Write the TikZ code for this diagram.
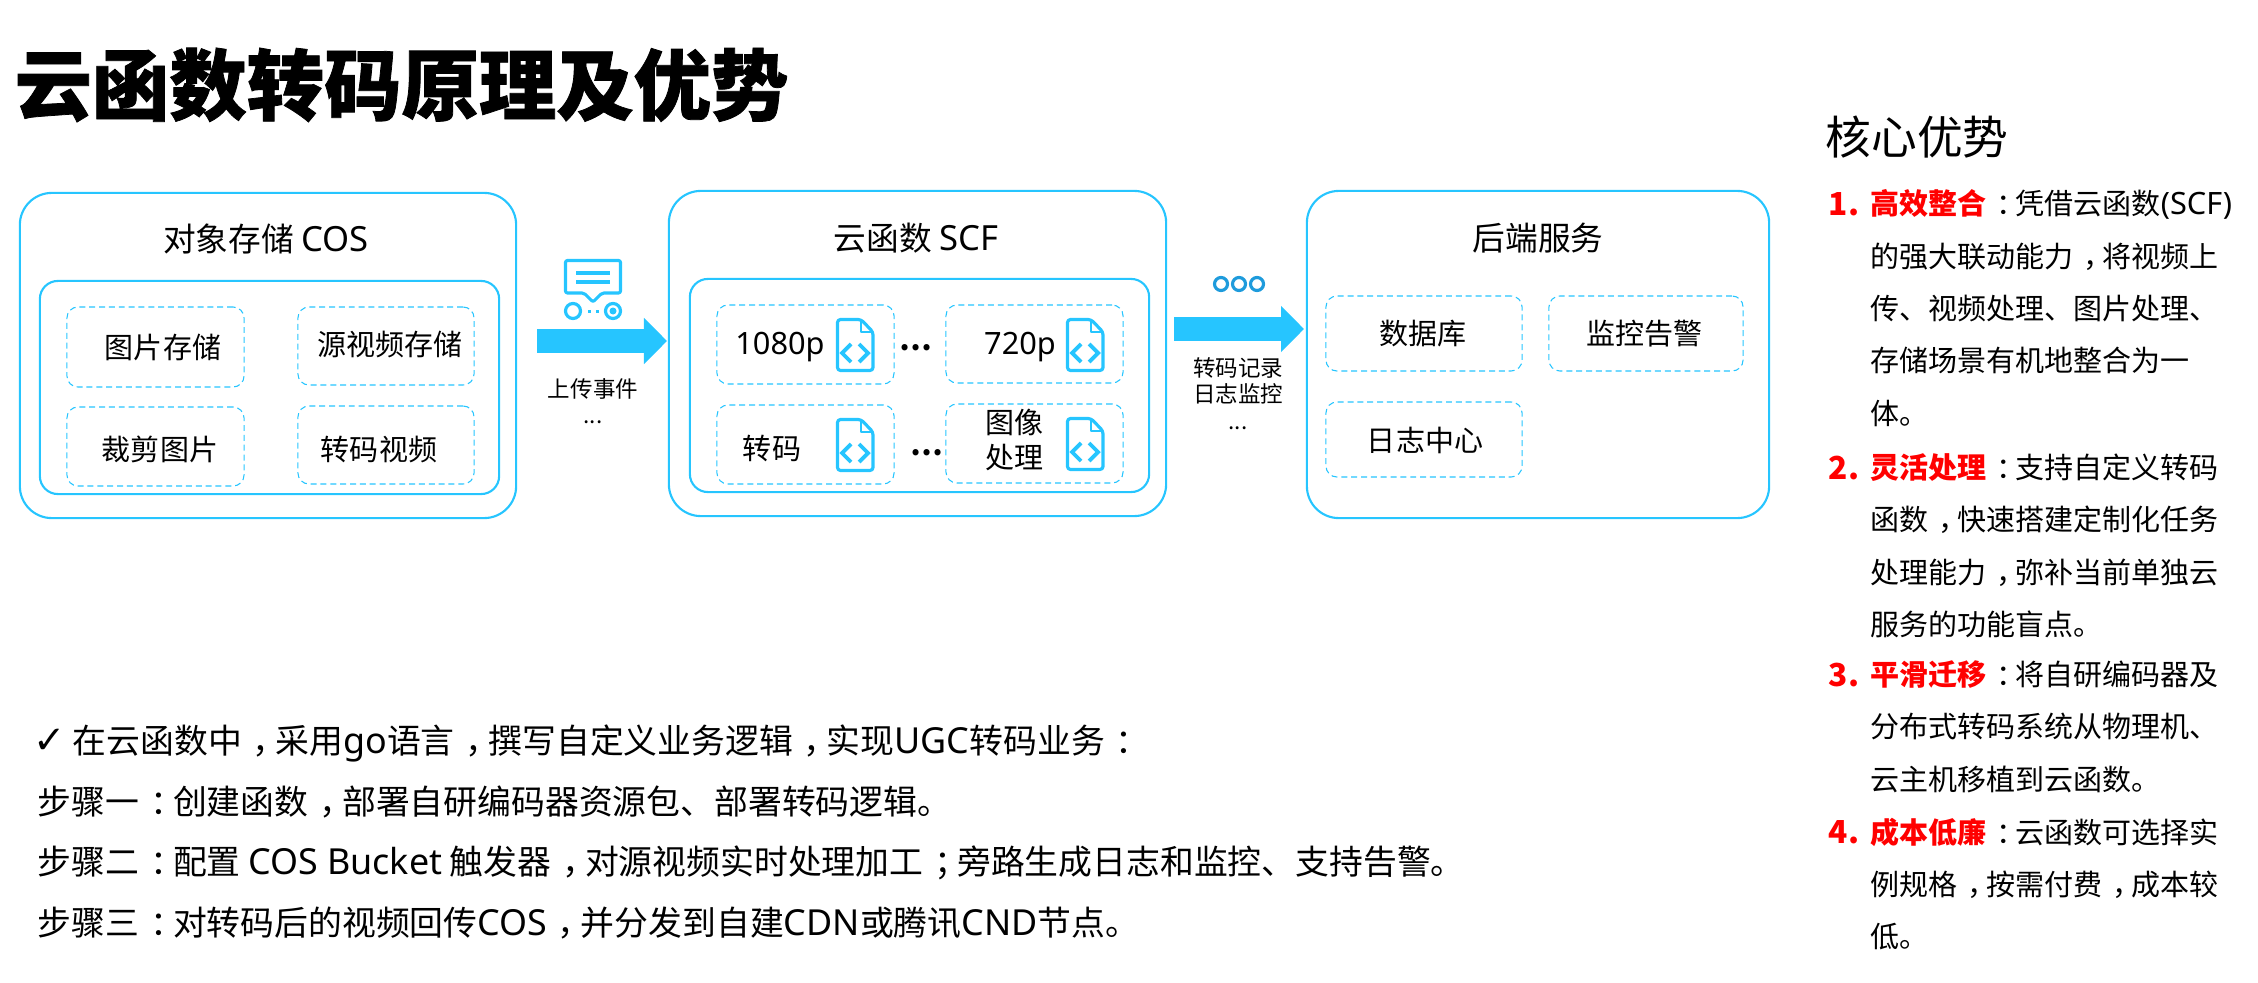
\documentclass[tikz,border=0pt]{standalone}
\usepackage{fontspec}
\setmainfont{Noto Sans CJK SC}
\newfontfamily\symbolfont{DejaVu Sans}
\newfontfamily\latinfont[Scale=1.06]{Noto Sans}
\newfontfamily\heavyfont[FakeBold=1]{Noto Sans CJK SC Black}
\newcommand{\lat}[1]{{\latinfont #1}}
\newcommand{\pc}[1]{\hspace{0.32em}#1\hspace{-0.32em}}
\usetikzlibrary{arrows.meta}

\definecolor{boxblue}{HTML}{26C5FF}
\definecolor{ringblue}{HTML}{1E9BDC}
\definecolor{keyred}{HTML}{FF0000}

\tikzset{
    outerbox/.style={draw=boxblue, line width=0.6pt, rounded corners=0.32cm, minimum width=#1},
    outerbox/.default=4.96cm,
    innerbox/.style={draw=boxblue, line width=0.6pt, rounded corners=0.18cm},
    dashbox/.style={draw=boxblue, line width=0.3pt, dash pattern=on 1.7pt off 1.1pt, rounded corners=0.11cm},
    boxtitle/.style={font=\fontsize{9.3}{11}\selectfont, text=black},
    itemlabel/.style={font=\fontsize{8.25}{9.8}\selectfont, text=black, align=center},
    smalllabel/.style={font=\fontsize{6.4}{7.4}\selectfont, text=black, align=center},
    steptext/.style={font=\fontsize{9.62}{11}\selectfont, text=black, anchor=west},
    itemtext/.style={font=\fontsize{8.25}{14.9}\selectfont, text=black, anchor=north west, align=left, inner sep=0pt},
    itemnum/.style={font=\fontsize{9}{14.9}\selectfont\bfseries, text=keyred, anchor=west, inner sep=0pt},
    fatarrow/.style={draw=boxblue, line width=0.23cm, -{Triangle[length=0.23cm, width=0.45cm]}},
    codefile/.pic={
        \draw[boxblue, line width=0.9pt, line join=round, rounded corners=0.03cm]
            (1.5, 1.5) -- (25, 1.5) -- (37, 14) -- (37, 52.5) -- (1.5, 52.5) -- cycle;
        \draw[boxblue, line width=0.7pt, line join=round] (25, 1.5) -- (25, 14) -- (37, 14);
        \draw[boxblue, line width=1.1pt] (15, 26) -- (6, 35) -- (15, 44);
        \draw[boxblue, line width=1.1pt] (23, 26) -- (32, 35) -- (23, 44);
    }
}

\begin{document}
\begin{tikzpicture}[x=0.01cm, y=-0.01cm]
    \useasboundingbox (0, 0) rectangle (2258, 982);

    \node[anchor=west, inner sep=0pt, font=\fontsize{22}{26}\selectfont\heavyfont] (maintitle) at (14, 85) {云函数转码原理及优势};

    % Object storage
    \node[outerbox, minimum width=4.96cm, minimum height=3.25cm] (cos) at (268, 355.5) {};
    \node[innerbox, minimum width=4.59cm, minimum height=2.13cm] (cosin) at (269.5, 387.5) {};
    \node[boxtitle] (costitle) at (266, 239) {对象存储 \lat{COS}};
    \node[dashbox, minimum width=1.77cm, minimum height=0.80cm] (cosa) at (155.5, 347) {};
    \node[dashbox, minimum width=1.76cm, minimum height=0.78cm] (cosb) at (386, 346) {};
    \node[dashbox, minimum width=1.77cm, minimum height=0.79cm] (cosc) at (155.5, 446.5) {};
    \node[dashbox, minimum width=1.76cm, minimum height=0.78cm] (cosd) at (386, 445) {};
    \node[itemlabel] (cosatext) at (163, 347) {图片存储};
    \node[itemlabel] (cosbtext) at (390, 344) {源视频存储};
    \node[itemlabel] (cosctext) at (160, 449) {裁剪图片};
    \node[itemlabel] (cosdtext) at (379, 449) {转码视频};

    % Upload event
    \draw[boxblue, line width=0.9pt, line join=round, rounded corners=0.02cm]
        (565.5, 260.5) -- (620.5, 260.5) -- (620.5, 293) -- (602, 293) -- (593, 302) -- (584, 293) -- (565.5, 293) -- cycle;
    \draw[boxblue, line width=0.9pt] (576, 273) -- (610, 273);
    \draw[boxblue, line width=0.9pt] (576, 282) -- (610, 282);
    \draw[boxblue, line width=0.9pt] (573, 311) circle (7.5);
    \draw[boxblue, line width=0.9pt] (613, 311) circle (7.5);
    \fill[boxblue] (613, 311) circle (3.5);
    \fill[boxblue] (587.5, 309.5) rectangle (590.5, 312.5);
    \fill[boxblue] (595.5, 309.5) rectangle (598.5, 312.5);
    \coordinate (upstart) at (537, 341);
    \coordinate (upend) at (667, 341);
    \draw[fatarrow] (upstart) -- (upend);
    \node[smalllabel] (uptext) at (593, 389) {上传事件};
    \node[smalllabel] (updots) at (593, 422) {...};

    % Cloud function
    \node[outerbox, minimum width=4.97cm, minimum height=3.25cm] (scf) at (917.5, 353.5) {};
    \node[innerbox, minimum width=4.59cm, minimum height=2.13cm] (scfin) at (919.5, 385.5) {};
    \node[boxtitle] (scftitle) at (916, 238) {云函数 \lat{SCF}};
    \node[dashbox, minimum width=1.77cm, minimum height=0.79cm] (scfa) at (805.5, 344.5) {};
    \node[dashbox, minimum width=1.77cm, minimum height=0.78cm] (scfb) at (1034.5, 344) {};
    \node[dashbox, minimum width=1.77cm, minimum height=0.79cm] (scfc) at (805.5, 444.5) {};
    \node[dashbox, minimum width=1.77cm, minimum height=0.79cm] (scfd) at (1034.5, 443.5) {};
    \node[itemlabel] (scfatext) at (780, 347) {\lat{1080p}};
    \node[itemlabel] (scfbtext) at (1020, 347) {\lat{720p}};
    \node[itemlabel] (scfctext) at (772, 448) {转码};
    \node[itemlabel, font=\fontsize{8.25}{9.8}\selectfont] (scfdtext) at (1014, 440) {图像\\处理};
    \pic at (836, 318) {codefile};
    \pic at (1066, 318) {codefile};
    \pic at (836, 418) {codefile};
    \pic at (1066, 417) {codefile};
    \node[itemlabel, font=\fontsize{8.25}{9.8}\selectfont\bfseries] (scfdotsa) at (916, 348) {…};
    \node[itemlabel, font=\fontsize{8.25}{9.8}\selectfont\bfseries] (scfdotsb) at (927, 453) {…};

    % Transcode records
    \draw[ringblue, line width=0.9pt] (1221, 284) circle (6.5);
    \draw[ringblue, line width=0.9pt] (1239, 284) circle (6.5);
    \draw[ringblue, line width=0.9pt] (1257, 284) circle (6.5);
    \coordinate (logstart) at (1174, 329);
    \coordinate (logend) at (1304, 329);
    \draw[fatarrow] (logstart) -- (logend);
    \node[smalllabel] (logtext) at (1238, 381) {转码记录\\日志监控};
    \node[smalllabel] (logdots) at (1238, 428) {...};

    % Backend services
    \node[outerbox, minimum width=4.62cm, minimum height=3.27cm] (backend) at (1538, 354.5) {};
    \node[boxtitle] (backendtitle) at (1538, 238) {后端服务};
    \node[dashbox, minimum width=1.96cm, minimum height=0.75cm] (dba) at (1424, 333.5) {};
    \node[dashbox, minimum width=1.94cm, minimum height=0.75cm] (alarm) at (1646, 333.5) {};
    \node[dashbox, minimum width=1.96cm, minimum height=0.75cm] (logs) at (1424, 439.5) {};
    \node[itemlabel] (dbatext) at (1423, 334) {数据库};
    \node[itemlabel] (alarmtext) at (1644, 334) {监控告警};
    \node[itemlabel] (logstext) at (1425, 440) {日志中心};

    % Steps
    \node[font=\fontsize{11}{13}\selectfont\symbolfont, inner sep=0pt] (stepcheck) at (50, 741) {✓};
    \node[steptext, inner sep=0pt] (stepintro) at (72, 743) {在云函数中\pc{，}采用\lat{go}语言\pc{，}撰写自定义业务逻辑\pc{，}实现\lat{UGC}转码业务\pc{：}};
    \node[steptext, inner sep=0pt] (stepone) at (37, 802) {步骤一\pc{：}创建函数\pc{，}部署自研编码器资源包、部署转码逻辑。};
    \node[steptext, inner sep=0pt] (steptwo) at (37, 863) {步骤二\pc{：}配置 \lat{COS Bucket} 触发器\pc{，}对源视频实时处理加工\pc{；}旁路生成日志和监控、支持告警。};
    \node[steptext, inner sep=0pt] (stepthree) at (37, 923) {步骤三\pc{：}对转码后的视频回传\lat{COS}\pc{，}并分发到自建\lat{CDN}或腾讯\lat{CND}节点。};

    % Advantages
    \node[anchor=west, inner sep=0pt, font=\fontsize{13}{15}\selectfont] (advtitle) at (1825, 137) {核心优势};
    \node[itemnum] (numone) at (1828, 204) {1.};
    \node[itemtext] (advone) at (1870, 189) {\textcolor{keyred}{\textbf{高效整合}}\pc{：}凭借云函数\lat{(SCF)}\\的强大联动能力\pc{，}将视频上\\传、视频处理、图片处理、\\存储场景有机地整合为一\\体。};
    \node[itemnum] (numtwo) at (1828, 468) {2.};
    \node[itemtext] (advtwo) at (1870, 453) {\textcolor{keyred}{\textbf{灵活处理}}\pc{：}支持自定义转码\\函数\pc{，}快速搭建定制化任务\\处理能力\pc{，}弥补当前单独云\\服务的功能盲点。};
    \node[itemnum] (numthree) at (1828, 675) {3.};
    \node[itemtext] (advthree) at (1870, 660) {\textcolor{keyred}{\textbf{平滑迁移}}\pc{：}将自研编码器及\\分布式转码系统从物理机、\\云主机移植到云函数。};
    \node[itemnum] (numfour) at (1828, 832) {4.};
    \node[itemtext] (advfour) at (1870, 817) {\textcolor{keyred}{\textbf{成本低廉}}\pc{：}云函数可选择实\\例规格\pc{，}按需付费\pc{，}成本较\\低。};
\end{tikzpicture}
\end{document}
